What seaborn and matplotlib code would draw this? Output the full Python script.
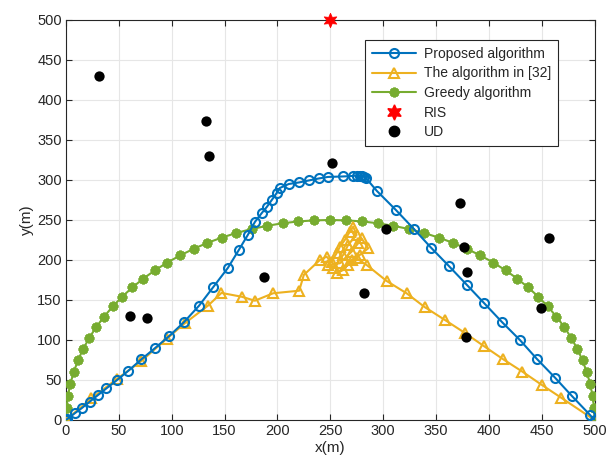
import matplotlib
matplotlib.use("Agg")
import matplotlib.pyplot as plt
import seaborn as sns
from matplotlib.lines import Line2D

# ---------------- data ----------------
prop_x = [0, 1.0, 8.3, 14.7, 22.5, 30.4, 38.3, 47.8, 58.8, 71.4, 84.0, 97.2, 111.5, 125.9,
          139.2, 153.1, 163.5, 172.0, 178.7, 185.3, 190.0, 194.7, 199.4, 202.3, 210.8,
          220.3, 229.7, 239.2, 247.7, 261.9, 271.4, 275.1, 278.0, 279.9, 281.8, 283.7,
          294.1, 312.1, 329.1, 345.2, 362.2, 379.3, 395.4, 412.4, 429.4, 445.5, 462.5,
          478.6, 495.6, 500]
prop_y = [0, 0.9, 8.4, 14.6, 22.9, 31.3, 39.6, 49.4, 61.3, 75.9, 89.6, 104.4, 122.1, 142.9,
          165.9, 190.0, 212.5, 231.3, 247.5, 258.8, 266.3, 275.0, 283.8, 290.0, 295.0,
          296.9, 299.4, 301.9, 303.8, 304.4, 305.0, 305.6, 305.6, 305.0, 303.8, 302.5,
          286.3, 262.5, 238.8, 215.6, 192.5, 168.8, 146.3, 122.5, 100.0, 76.3, 53.1,
          30.0, 6.5, 0]

ref_x = [0, 24.1, 47.8, 71.4, 95.1, 112.4, 134.5, 147.1, 166.1, 178.7, 196.0, 220.6, 225.0,
         240.2, 246.5, 251.2, 256.0, 259.1, 263.8, 268.5, 271.7, 274.9, 266.9, 262.2, 252.7,
         248.0, 259.1, 270.2, 276.4, 279.6, 285.9, 278.0, 270.2, 262.2, 256.0, 266.9, 274.9,
         284.4, 303.3, 322.2, 339.5, 358.5, 377.4, 395.2, 413.6, 431.8, 450.2, 468.5, 500]
ref_y = [0, 27.1, 50.9, 73.8, 101.3, 120.9, 143.1, 158.8, 154.1, 149.1, 158.4, 161.6, 181.3,
         200.0, 204.1, 197.9, 208.4, 216.6, 225.0, 235.4, 241.6, 231.3, 218.8, 206.3, 189.6,
         193.8, 195.9, 210.4, 220.9, 227.1, 214.6, 206.3, 200.0, 187.5, 183.4, 193.8, 202.1,
         193.8, 173.8, 158.4, 141.0, 125.0, 108.8, 92.5, 75.9, 60.4, 43.8, 27.8, 0]

greedy_x = [0, 0.5, 1.8, 4.1, 7.3, 11.3, 16.2, 22.0, 28.6, 36.1, 44.3, 53.2, 62.9, 73.2,
            84.2, 95.8, 108.0, 120.7, 133.8, 147.4, 161.3, 175.6, 190.2, 204.9, 219.9, 234.9,
            250.0,
            265.1, 280.1, 295.1, 309.8, 324.4, 338.7, 352.6, 366.2, 379.3, 392.0, 404.2,
            415.8, 426.8, 437.1, 446.8, 455.7, 463.9, 471.4, 478.0, 483.8, 488.7, 492.7,
            495.9, 498.2, 499.5, 500]
greedy_y = [0, 15.1, 30.1, 45.1, 59.8, 74.4, 88.7, 102.6, 116.2, 129.3, 142.0, 154.2, 165.8,
            176.8, 187.1, 196.8, 205.7, 213.9, 221.4, 228.0, 233.8, 238.7, 242.7, 245.9, 248.2,
            249.5, 250.0,
            249.5, 248.2, 245.9, 242.7, 238.7, 233.8, 228.0, 221.4, 213.9, 205.7, 196.8,
            187.1, 176.8, 165.8, 154.2, 142.0, 129.3, 116.2, 102.6, 88.7, 74.4, 59.8, 45.1,
            30.1, 15.1, 0]

ris_x = [250]
ris_y = [500]

ud_x = [31, 132, 135, 252, 373, 377, 379, 457, 449, 378, 187, 282, 61, 77, 303]
ud_y = [430, 374, 330, 321, 271, 216, 185, 228, 140, 104, 179, 159, 130, 127, 239]

labels = ["Proposed algorithm", "The algorithm in [32]", "Greedy algorithm", "RIS", "UD"]

# ---------------- style ----------------
sns.set_theme(style="whitegrid")
plt.rcParams["font.family"] = ["Liberation Sans", "DejaVu Sans"]

c_blue = "#0072BD"
c_yel = "#EDB120"
c_green = "#77AC30"
green_marker = (8, 2, 0)

fig = plt.figure(figsize=(6.11, 4.68), dpi=100)
ax = fig.add_axes([0.108, 0.1026, 0.865, 0.8547])
ax.set_facecolor("white")

sns.lineplot(x=greedy_x, y=greedy_y, sort=False, estimator=None, ax=ax, color=c_green,
             linewidth=1.5, marker=green_marker, markersize=7, markeredgewidth=2.0,
             markeredgecolor=c_green, markerfacecolor=c_green, zorder=3)
sns.lineplot(x=ref_x, y=ref_y, sort=False, estimator=None, ax=ax, color=c_yel,
             linewidth=1.5, marker="^", markersize=7, markeredgewidth=1.5,
             markeredgecolor=c_yel, markerfacecolor="none", zorder=4)
sns.lineplot(x=prop_x, y=prop_y, sort=False, estimator=None, ax=ax, color=c_blue,
             linewidth=1.5, marker="o", markersize=6.5, markeredgewidth=1.5,
             markeredgecolor=c_blue, markerfacecolor="none", zorder=5)
sns.scatterplot(x=ud_x, y=ud_y, ax=ax, color="black", s=55, edgecolor="black",
                linewidth=0, zorder=6)
sns.scatterplot(x=ris_x, y=ris_y, ax=ax, color="red", marker=(6, 1, 0), s=110,
                edgecolor="red", linewidth=0.5, zorder=7, clip_on=False)

ax.set_xlim(0, 500)
ax.set_ylim(0, 500)
ax.set_xticks(range(0, 501, 50))
ax.set_yticks(range(0, 501, 50))
ax.set_xlabel("x(m)", fontsize=11, color="#262626", labelpad=2)
ax.set_ylabel("y(m)", fontsize=11, color="#262626", labelpad=2)
ax.grid(True, color="#e6e6e6", linewidth=0.8)
ax.set_axisbelow(True)
for s in ax.spines.values():
    s.set_color("#262626")
    s.set_linewidth(0.8)
    s.set_visible(True)
ax.tick_params(direction="in", length=4, width=0.8, colors="#262626", labelsize=10.5,
               top=True, right=True, bottom=True, left=True, pad=3)

handles = [
    Line2D([], [], color=c_blue, lw=1.5, marker="o", markersize=6.5, mew=1.5, mfc="none", mec=c_blue),
    Line2D([], [], color=c_yel, lw=1.5, marker="^", markersize=7, mew=1.5, mfc="none", mec=c_yel),
    Line2D([], [], color=c_green, lw=1.5, marker=green_marker, markersize=7, mew=2.0, mec=c_green),
    Line2D([], [], color="red", lw=0, marker=(6, 1, 0), markersize=11, mec="red", mfc="red"),
    Line2D([], [], color="black", lw=0, marker="o", markersize=7.5, mec="black", mfc="black"),
]
leg = ax.legend(handles, labels, loc="upper left", bbox_to_anchor=(0.565, 0.95),
                fontsize=10, frameon=True, fancybox=False, framealpha=1,
                edgecolor="#262626", handlelength=3.2, labelspacing=0.4,
                borderpad=0.5, handletextpad=0.55, borderaxespad=0)
leg.get_frame().set_linewidth(0.8)

fig.savefig("out.png", dpi=100)
